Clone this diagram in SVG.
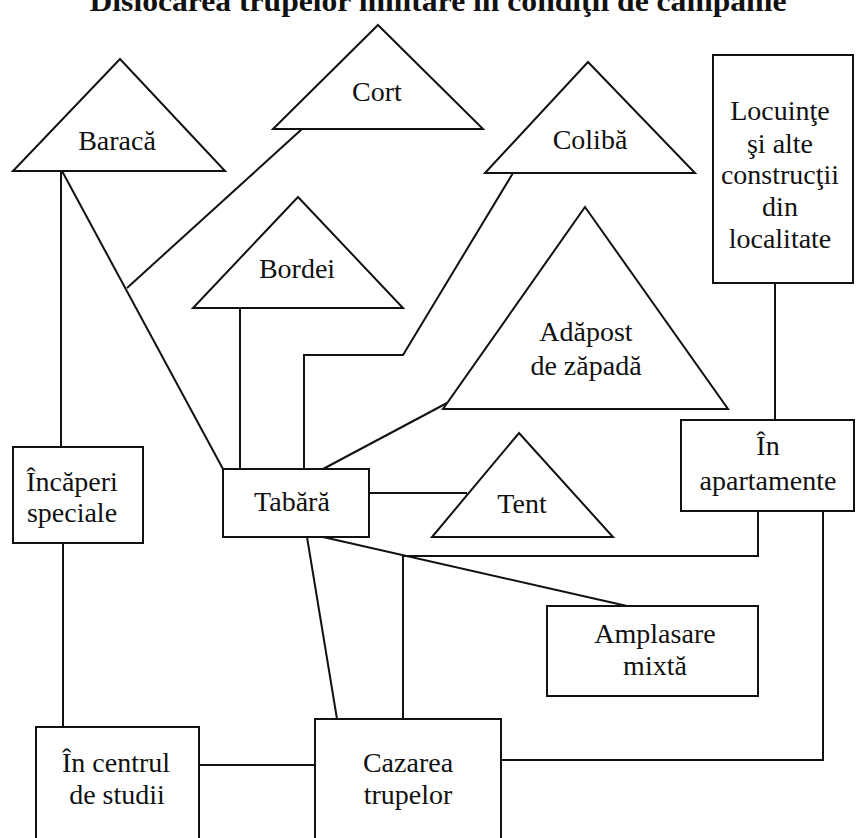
<svg xmlns="http://www.w3.org/2000/svg" width="856" height="838" viewBox="0 0 856 838">
<style>
.n{fill:#fff;stroke:#111;stroke-width:2}
.c{fill:none;stroke:#111;stroke-width:2}
text{font-family:"Liberation Serif","Times New Roman",serif;font-size:28px;fill:#111;text-anchor:middle}
.t{font-weight:bold;font-size:30px}
</style>
<rect width="856" height="838" fill="#fff"/>
<text class="t" x="438" y="11" textLength="697" lengthAdjust="spacingAndGlyphs">Dislocarea trupelor militare în condiţii de campanie</text>
<g id="connectors">
<path class="c" d="M61 171V447"/>
<path class="c" d="M62 171L223 469"/>
<path class="c" d="M302 129L127 288"/>
<path class="c" d="M240 308V469"/>
<path class="c" d="M513 173L403 355H304V469"/>
<path class="c" d="M323 469L447 403"/>
<path class="c" d="M369 493H467"/>
<path class="c" d="M323 537L627 606"/>
<path class="c" d="M307 537L337 719"/>
<path class="c" d="M758 511V556H403V719"/>
<path class="c" d="M823 511V760H501"/>
<path class="c" d="M775 283V420"/>
<path class="c" d="M199 765H315"/>
<path class="c" d="M63 543V727"/>
</g>
<g id="baraca"><polygon class="n" points="120,59 225,171 13,171"/><text x="117" y="150">Baracă</text></g>
<g id="cort"><polygon class="n" points="378,25 483,129 273,129"/><text x="377" y="101">Cort</text></g>
<g id="coliba"><polygon class="n" points="588,62 695,173 485,173"/><text x="590" y="149">Colibă</text></g>
<g id="bordei"><polygon class="n" points="298,197 403,308 193,308"/><text x="297" y="278">Bordei</text></g>
<g id="adapost"><polygon class="n" points="585,207 728,409 443,409"/><text x="586" y="341">Adăpost</text><text x="586" y="375">de zăpadă</text></g>
<g id="tent"><polygon class="n" points="519,433 613,537 432,537"/><text x="522" y="513">Tent</text></g>
<g id="locuinte"><rect class="n" x="713" y="55" width="140" height="228"/><text x="780" y="120">Locuinţe</text><text x="780" y="153">şi alte</text><text x="780" y="184">construcţii</text><text x="780" y="216">din</text><text x="780" y="248">localitate</text></g>
<g id="apartamente"><rect class="n" x="681" y="420" width="173" height="91"/><text x="768" y="455">În</text><text x="768" y="490">apartamente</text></g>
<g id="incaperi"><rect class="n" x="13" y="447" width="130" height="96"/><text x="72" y="491">Încăperi</text><text x="72" y="522">speciale</text></g>
<g id="tabara"><rect class="n" x="223" y="469" width="146" height="68"/><text x="292" y="511">Tabără</text></g>
<g id="amplasare"><rect class="n" x="547" y="606" width="211" height="90"/><text x="655" y="643">Amplasare</text><text x="655" y="675">mixtă</text></g>
<g id="centru"><rect class="n" x="36" y="727" width="163" height="120"/><text x="116" y="772">În centrul</text><text x="117" y="804">de studii</text></g>
<g id="cazarea"><rect class="n" x="315" y="719" width="186" height="130"/><text x="408" y="772">Cazarea</text><text x="408" y="804">trupelor</text></g>
</svg>
